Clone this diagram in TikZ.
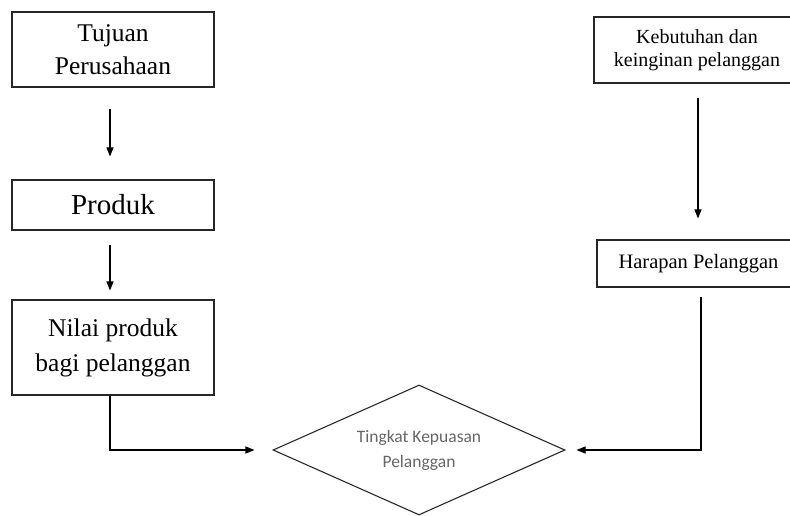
\documentclass[tikz,border=0pt]{standalone}
\usepackage{fontspec}
\setmainfont{Liberation Serif}
\newfontfamily\diafont{Carlito}
\usetikzlibrary{shapes.geometric,arrows.meta}
\begin{document}
\begin{tikzpicture}[x=1pt,y=1pt,
  box/.style={draw=black!85,line width=1.1pt,rectangle,inner sep=0pt,align=center},
  arr/.style={line width=1.1pt,-{Triangle[width=7pt,length=9pt]}},
  ln/.style={line width=1.1pt}]
\useasboundingbox (0,0) rectangle (790,515);
\node[box,minimum width=202pt,minimum height=75pt,font=\fontsize{25.5}{33}\selectfont] (b1) at (113,465.5) {Tujuan\\Perusahaan};
\node[box,minimum width=202pt,minimum height=50pt,font=\fontsize{29}{33}\selectfont] (b2) at (113,310) {Produk};
\node[box,minimum width=202pt,minimum height=95pt,font=\fontsize{25.5}{35}\selectfont] (b3) at (113,167.5) {Nilai produk\\bagi pelanggan};
\node[box,minimum width=206pt,minimum height=66pt,font=\fontsize{20}{23}\selectfont] (k) at (697,465) {Kebutuhan dan\\keinginan pelanggan};
\node[box,minimum width=203pt,minimum height=47pt,font=\fontsize{20.5}{23}\selectfont] (h) at (698.5,251.5) {Harapan Pelanggan};
\node[draw=black!85,line width=1.1pt,diamond,aspect=2.246,inner sep=0pt,minimum width=292pt,minimum height=130pt,align=center,text=black!60,font=\diafont\fontsize{17.5}{25}\selectfont] (d) at (419,65) {Tingkat Kepuasan\\Pelanggan};
\draw[arr,shorten <=21pt,shorten >=23pt] ([xshift=-3pt]b1.south) -- ([xshift=-3pt]b2.north);
\draw[arr,shorten <=14pt,shorten >=9pt] ([xshift=-3pt]b2.south) -- ([xshift=-3pt]b3.north);
\draw[arr,shorten <=14pt,shorten >=21pt] ([xshift=1pt]k.south) -- ([xshift=1pt]k.south |- h.north);
\draw[arr,shorten >=18pt] ([xshift=-3pt]b3.south) |- (d.west);
\draw[arr,shorten >=11pt] ([xshift=2.5pt,yshift=-9pt]h.south) |- (d.east);
\end{tikzpicture}
\end{document}
